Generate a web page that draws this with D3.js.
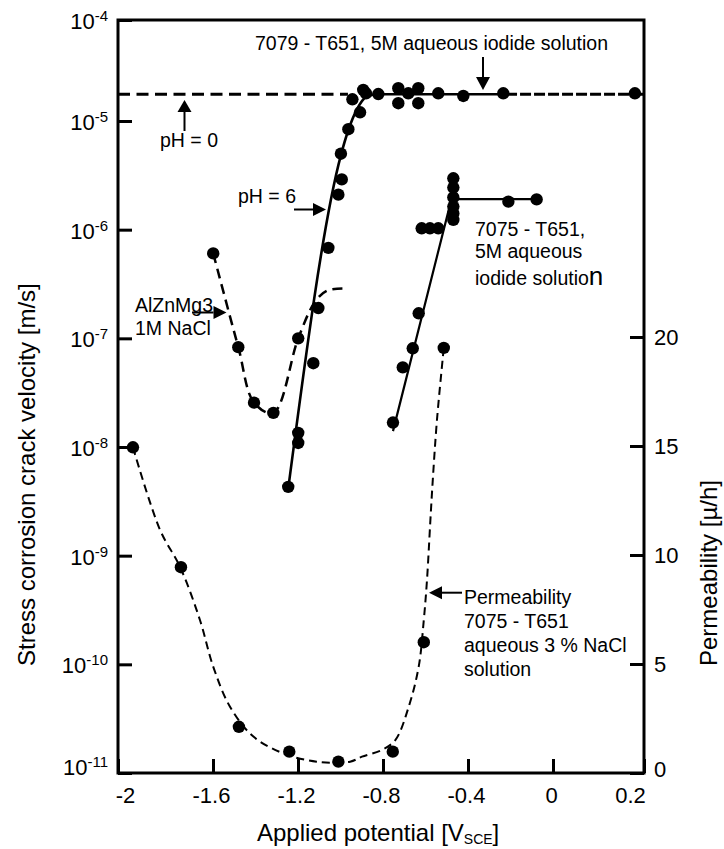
<!DOCTYPE html>
<html>
<head>
<meta charset="utf-8">
<script src="https://cdn.jsdelivr.net/npm/d3@7"></script>
<style>
  html, body { margin: 0; padding: 0; background: #fff; }
  svg { display: block; }
</style>
</head>
<body>
<svg id="chart" width="724" height="849"></svg>
<script>
// ---- axis ticks ----
const xTicks = [-2, -1.6, -1.2, -0.8, -0.4, 0, 0.2];
const velocityExponents = [-11, -10, -9, -8, -7, -6, -5, -4];
const permTicks = [0, 5, 10, 15, 20];

// ---- 7079-T651, 5M aqueous iodide solution (potential V, crack velocity m/s) ----
const ph6Points = [
  [-1.246, 4.3e-9], [-1.199, 1.35e-8], [-1.199, 1.09e-8], [-1.128, 5.9e-8],
  [-1.104, 1.9e-7], [-1.057, 6.8e-7], [-1.010, 2.1e-6], [-0.994, 2.9e-6],
  [-0.998, 5.0e-6], [-0.963, 8.4e-6], [-0.944, 1.64e-5], [-0.908, 1.22e-5],
  [-0.893, 2.03e-5], [-0.880, 1.88e-5], [-0.822, 1.85e-5], [-0.728, 2.11e-5],
  [-0.728, 1.50e-5], [-0.681, 1.88e-5], [-0.634, 2.11e-5], [-0.634, 1.50e-5],
  [-0.540, 1.88e-5], [-0.422, 1.77e-5], [-0.234, 1.88e-5], [0.180, 1.88e-5]
];
// fitted pH = 6 curve running into the plateau
const ph6Curve = [
  [-1.247, 4.0e-9], [-0.998, 4.86e-6], [-0.963, 8.26e-6], [-0.924, 1.29e-5],
  [-0.877, 1.74e-5], [-0.822, 1.84e-5], [-0.221, 1.84e-5]
];
// pH = 0 plateau (dashed) and its continuation past the last fit point
const plateauLeft = [[-2, 1.84e-5], [-0.965, 1.84e-5]];
const plateauRight = [[-0.221, 1.84e-5], [0.2, 1.84e-5]];

// ---- AlZnMg3, 1M NaCl ----
const alznPoints = [
  [-1.599, 6.05e-7], [-1.481, 8.3e-8], [-1.407, 2.56e-8], [-1.316, 2.06e-8], [-1.199, 1.0e-7]
];
const alznCurve = [
  [-1.599, 6.05e-7], [-1.481, 8.3e-8], [-1.407, 2.56e-8], [-1.316, 2.06e-8],
  [-1.199, 1.0e-7], [-1.120, 2.17e-7], [-1.065, 2.74e-7], [-0.987, 2.88e-7]
];

// ---- 7075-T651, 5M aqueous iodide solution ----
const t7075Points = [
  [-0.753, 1.68e-8], [-0.707, 5.4e-8], [-0.660, 8.1e-8], [-0.632, 1.70e-7],
  [-0.618, 1.03e-6], [-0.579, 1.03e-6], [-0.540, 1.03e-6],
  [-0.469, 2.97e-6], [-0.469, 2.44e-6], [-0.469, 1.98e-6], [-0.469, 1.63e-6],
  [-0.469, 1.41e-6], [-0.469, 1.23e-6],
  [-0.210, 1.81e-6], [-0.077, 1.90e-6]
];
const t7075Line = [[-0.753, 1.40e-8], [-0.478, 1.91e-6], [-0.077, 1.91e-6]];

// ---- Permeability, 7075-T651 in aqueous 3 % NaCl (right axis, µ/h) ----
const permPoints = [
  [-1.937, 14.94], [-1.735, 9.44], [-1.478, 2.12], [-1.241, 0.98],
  [-1.010, 0.52], [-0.754, 0.98], [-0.608, 6.0], [-0.514, 19.5]
];
const permCurve = [
  [-1.937, 14.94], [-1.823, 11.15], [-1.739, 9.46], [-1.655, 7.02], [-1.599, 4.88],
  [-1.520, 3.04], [-1.410, 1.67], [-1.269, 0.90], [-1.112, 0.52], [-0.955, 0.52],
  [-0.899, 0.75], [-0.805, 1.06], [-0.742, 1.51], [-0.679, 3.04], [-0.632, 4.88],
  [-0.608, 7.02], [-0.593, 8.85], [-0.577, 11.6], [-0.566, 13.4], [-0.546, 16.2],
  [-0.514, 19.5]
];

// ---- drawing ----
const FONT = '"Liberation Sans", Arial, Helvetica, sans-serif';
const L = 118, R = 644, T = 20, B = 773;

const svg = d3.select("#chart").attr("font-family", FONT);

const x = d3.scaleLinear().domain([-2, -1.6, 0, 0.2]).range([L, 213, 553, R]);
const y = d3.scaleLog().domain([1e-11, 1e-5, 1e-4]).range([B, 121, T]);
const yP = d3.scaleLinear().domain([0, 20]).range([B, 337]);

// bottom axis
const gx = svg.append("g")
  .attr("transform", `translate(0,${B})`)
  .call(d3.axisBottom(x).tickValues(xTicks).tickSizeInner(-14).tickSizeOuter(0)
    .tickPadding(14).tickFormat(d => String(d)));
gx.attr("font-family", FONT).attr("font-size", 22);
gx.select(".domain").remove();
gx.selectAll(".tick line").attr("stroke", "#000").attr("stroke-width", 3);
gx.selectAll(".tick text").attr("fill", "#000")
  .attr("dx", d => d === -2 ? 7 : d === 0.2 ? -14 : -2);

// left axis (powers of ten)
const gy = svg.append("g")
  .attr("transform", `translate(${L},0)`)
  .call(d3.axisLeft(y).tickValues(velocityExponents.map(e => Math.pow(10, e)))
    .tickSizeInner(-14).tickSizeOuter(0).tickFormat(() => ""));
gy.attr("font-family", FONT);
gy.select(".domain").remove();
gy.selectAll(".tick line").attr("stroke", "#000").attr("stroke-width", 3);
gy.selectAll(".tick text").remove();
velocityExponents.forEach(e => {
  const yy = y(Math.pow(10, e));
  const shift = e === -11 ? 2 : 9;
  const t = svg.append("text")
    .attr("x", L - 10).attr("y", yy + shift)
    .attr("text-anchor", "end").attr("fill", "#000");
  t.append("tspan").attr("font-size", 22).text("10");
  t.append("tspan").attr("font-size", 15).attr("dy", -8).text(String(e));
});

// right axis (permeability)
const gr = svg.append("g")
  .attr("transform", `translate(${R},0)`)
  .call(d3.axisRight(yP).tickValues(permTicks).tickSizeInner(-14).tickSizeOuter(0)
    .tickPadding(10).tickFormat(d => String(d)));
gr.attr("font-family", FONT).attr("font-size", 22);
gr.select(".domain").remove();
gr.selectAll(".tick line").attr("stroke", "#000").attr("stroke-width", 3);
gr.selectAll(".tick text").attr("fill", "#000").attr("dy", d => d === 0 ? "0.15em" : "0.32em");

// frame
svg.append("rect").attr("x", L).attr("y", T).attr("width", R - L).attr("height", B - T)
  .attr("fill", "none").attr("stroke", "#000").attr("stroke-width", 3);

// axis titles
svg.append("text")
  .attr("transform", `translate(35,666) rotate(-90)`)
  .attr("font-size", 24).attr("fill", "#000")
  .text("Stress corrosion crack velocity [m/s]");
svg.append("text")
  .attr("transform", `translate(717,666) rotate(-90)`)
  .attr("font-size", 24).attr("fill", "#000")
  .text("Permeability [µ/h]");
const xt = svg.append("text").attr("x", 257).attr("y", 841)
  .attr("font-size", 24).attr("fill", "#000");
xt.append("tspan").text("Applied potential [V");
xt.append("tspan").attr("font-size", 14).attr("dy", 3).text("SCE");
xt.append("tspan").attr("dy", -3).text("]");

// lines
const lineV = d3.line().x(d => x(d[0])).y(d => y(d[1]));
const lineP = d3.line().x(d => x(d[0])).y(d => yP(d[1]));
const smooth = d3.curveCatmullRom.alpha(0.5);
const plot = svg.append("g").attr("fill", "none").attr("stroke", "#000");

plot.append("path").attr("d", lineV(plateauLeft))
  .attr("stroke-width", 3.2).attr("stroke-dasharray", "12,6.5");
plot.append("path").attr("d", lineV(plateauRight))
  .attr("stroke-width", 3).attr("stroke-dasharray", "11,3");
plot.append("path").attr("d", lineV.curve(d3.curveMonotoneX)(ph6Curve))
  .attr("stroke-width", 2.6);
plot.append("path").attr("d", lineV.curve(smooth)(alznCurve))
  .attr("stroke-width", 2.5).attr("stroke-dasharray", "10,6");
plot.append("path").attr("d", lineV.curve(d3.curveLinear)(t7075Line))
  .attr("stroke-width", 2.2);
plot.append("path").attr("d", lineP.curve(smooth)(permCurve))
  .attr("stroke-width", 2).attr("stroke-dasharray", "8,5");

// markers
const dots = svg.append("g").attr("fill", "#000");
[ph6Points, alznPoints, t7075Points].forEach(set => {
  dots.selectAll(null).data(set).enter().append("circle")
    .attr("cx", d => x(d[0])).attr("cy", d => y(d[1])).attr("r", 6.2);
});
dots.selectAll(null).data(permPoints).enter().append("circle")
  .attr("cx", d => x(d[0])).attr("cy", d => yP(d[1])).attr("r", 6.2);

// annotations
const ann = svg.append("g").attr("font-size", 19.5).attr("fill", "#000");
function label(xx, yy, lines, gap) {
  lines.forEach((s, i) => ann.append("text").attr("x", xx).attr("y", yy + i * gap).text(s));
}
function arrow(x1, y1, x2, y2, head, half) {
  const a = Math.atan2(y2 - y1, x2 - x1);
  const bx = x2 - head * Math.cos(a), by = y2 - head * Math.sin(a);
  ann.append("line").attr("x1", x1).attr("y1", y1).attr("x2", bx).attr("y2", by)
    .attr("stroke", "#000").attr("stroke-width", 2);
  const px = -Math.sin(a) * half, py = Math.cos(a) * half;
  ann.append("path")
    .attr("d", `M${x2},${y2}L${bx + px},${by + py}L${bx - px},${by - py}Z`)
    .attr("fill", "#000");
}

label(255, 50, ["7079 - T651, 5M aqueous iodide solution"], 0);
arrow(483, 57, 483, 90, 13, 7);

label(160, 147, ["pH = 0"], 0);
arrow(184.5, 131, 184.5, 100, 12, 7);

label(238, 203, ["pH = 6"], 0);
arrow(294, 209.5, 326, 209.5, 13, 6.5);

label(135, 311.5, ["AlZnMg3", "1M NaCl"], 23.5);
arrow(192, 312.5, 226.5, 312.5, 13, 6.5);

label(475, 235.5, ["7075 - T651,", "5M aqueous"], 22);
const last = ann.append("text").attr("x", 475).attr("y", 285);
last.append("tspan").text("iodide solutio");
last.append("tspan").attr("font-size", 26).text("n");

label(464, 603.5, ["Permeability", "7075 - T651", "aqueous 3 % NaCl", "solution"], 24.2);
arrow(462, 592.7, 429, 592.7, 13, 6.5);
</script>
</body>
</html>
